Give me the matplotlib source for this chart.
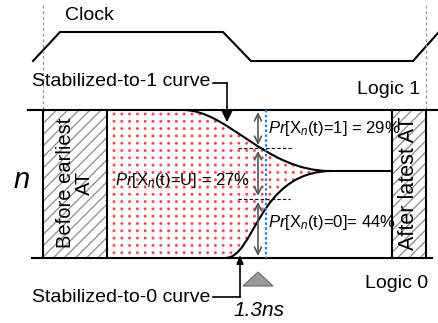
import numpy as np
import matplotlib

matplotlib.use("Agg")
import matplotlib.pyplot as plt
from matplotlib.patches import Rectangle, PathPatch, Polygon
from matplotlib.path import Path

plt.rcParams["font.family"] = ["Liberation Sans", "DejaVu Sans"]
plt.rcParams["mathtext.fontset"] = "custom"
plt.rcParams["mathtext.rm"] = "Liberation Sans"
plt.rcParams["mathtext.it"] = "Liberation Sans:italic"
plt.rcParams["hatch.linewidth"] = 0.9

# --- diagram data (pixel space of the 438x323 canvas, y grows downward) ---
CLOCK_X = [33, 60, 223, 251, 413, 438]
CLOCK_Y = [61, 32, 32, 61, 61, 33]
LOGIC1_Y = 110
LOGIC0_Y = 258
EARLIEST_AT = [43, 107]        # hatched "before earliest AT" span
LATEST_AT = [392, 426]         # hatched "after latest AT" span
# Bezier control points of the two stabilization curves
CURVE1 = [(183, 110), (228, 110), (265, 171), (330, 171)]
CURVE0 = [(225, 258), (255, 258), (257, 173), (330, 171)]
MERGE_END_X = 392
T_SAMPLE = 266                 # blue dotted sample time
PROB_LABELS = ["1", "U", "0"]
PROB_VALUES = [29, 27, 44]
SPLIT_Y = [148, 199]           # dashed levels where the curves cross T_SAMPLE
TIME_LABEL = "1.3ns"

INK = "#000000"
GREY = "#555555"
BLUE = "#1a80e0"
RED = "#ff1a1a"

fig = plt.figure(figsize=(4.38, 3.23), dpi=100)
ax = fig.add_axes([0, 0, 1, 1])
ax.set_xlim(0, 438)
ax.set_ylim(323, 0)
ax.axis("off")

# clock waveform and dashed AT markers
ax.plot(CLOCK_X, CLOCK_Y, color=INK, lw=1.5, solid_joinstyle="miter")
for xv in (EARLIEST_AT[0], LATEST_AT[1]):
    ax.plot([xv, xv], [5, LOGIC1_Y], color="#999999", lw=0.9, ls=(0, (2.5, 2)))
ax.text(65, 15, "Clock", fontsize=14, va="center", ha="left")

# hatched regions
for x0, x1 in (EARLIEST_AT, LATEST_AT):
    ax.add_patch(Rectangle((x0, LOGIC1_Y), x1 - x0, LOGIC0_Y - LOGIC1_Y,
                           facecolor="white", edgecolor="#8c8c8c", hatch="///", lw=0))
    for xv in (x0, x1):
        ax.plot([xv, xv], [LOGIC1_Y, LOGIC0_Y], color=INK, lw=1.5)

# uncertain region filled with red dots, clipped by the two curves
c1, c0 = CURVE1, CURVE0
verts = [(EARLIEST_AT[1], LOGIC1_Y), c1[0], c1[1], c1[2], c1[3],
         c0[2], c0[1], c0[0], (EARLIEST_AT[1], LOGIC0_Y), (0, 0)]
codes = [Path.MOVETO, Path.LINETO, Path.CURVE4, Path.CURVE4, Path.CURVE4,
         Path.CURVE4, Path.CURVE4, Path.CURVE4, Path.LINETO, Path.CLOSEPOLY]
region = PathPatch(Path(verts, codes), facecolor="none", edgecolor="none")
ax.add_patch(region)
gx, gy = np.meshgrid(np.arange(EARLIEST_AT[1] + 7, 335, 7.8),
                     np.arange(LOGIC1_Y + 4, LOGIC0_Y, 7.3))
dots = ax.scatter(gx.ravel(), gy.ravel(), s=4.5, color=RED, edgecolors="none", alpha=0.8)
dots.set_clip_path(region)

# curves
for cv in (CURVE1, CURVE0):
    ax.add_patch(PathPatch(Path(cv, [Path.MOVETO, Path.CURVE4, Path.CURVE4, Path.CURVE4]),
                           facecolor="none", edgecolor=INK, lw=1.5))
ax.plot([CURVE1[3][0], MERGE_END_X], [CURVE1[3][1], CURVE1[3][1]], color=INK, lw=1.5)

# logic rails
ax.plot([28, 438], [LOGIC1_Y, LOGIC1_Y], color=INK, lw=1.5)
ax.plot([32, 432], [LOGIC0_Y, LOGIC0_Y], color=INK, lw=1.5)
ax.text(420, 90, "Logic 1", fontsize=14, va="center", ha="right")
ax.text(365, 283, "Logic 0", fontsize=14, va="center", ha="left")
ax.text(22, 180, "n", fontsize=21, style="italic", va="center", ha="center")

# sample time, split levels and probability arrows
ax.plot([T_SAMPLE, T_SAMPLE], [LOGIC1_Y, LOGIC0_Y], color=BLUE, lw=1.6, ls=(0, (1.1, 1.1)))
ax.plot([238, 293], [SPLIT_Y[0]] * 2, color=INK, lw=0.8, ls=(0, (3, 2)))
ax.plot([238, 290], [SPLIT_Y[1]] * 2, color=INK, lw=0.8, ls=(0, (3, 2)))
for y0, y1 in ((LOGIC1_Y + 2, SPLIT_Y[0] - 3), (SPLIT_Y[0] + 3, SPLIT_Y[1] - 3),
               (SPLIT_Y[1] + 3, LOGIC0_Y - 2)):
    ax.annotate("", xy=(258, y0), xytext=(258, y1),
                arrowprops=dict(arrowstyle="<->,head_length=0.5,head_width=0.25",
                                color=GREY, lw=1.2, shrinkA=0, shrinkB=0))

fmt = r"$\mathit{{Pr}}$[$\mathrm{{X}}_{{\mathit{{n}}}}$(t)={}]{}= {}%"
ax.text(268, 128, fmt.format(PROB_LABELS[0], " ", PROB_VALUES[0]), fontsize=12, va="center")
ax.text(115, 180, fmt.format(PROB_LABELS[1], " ", PROB_VALUES[1]), fontsize=12, va="center")
ax.text(268, 222, fmt.format(PROB_LABELS[2], "", PROB_VALUES[2]), fontsize=12, va="center")

# region labels
ax.text(75, 183, "Before earliest\nAT", fontsize=14.5, rotation=90,
        ha="center", va="center", multialignment="center", linespacing=1.0)
ax.text(409, 183, "After latest AT", fontsize=15.5, rotation=90, ha="center", va="center")

# stabilized-curve callouts
ax.text(32, 82, "Stabilized-to-1 curve", fontsize=14, va="center", ha="left")
ax.plot([213, 227], [83, 83], color=INK, lw=1.2)
ax.annotate("", xy=(227, 122), xytext=(227, 83),
            arrowprops=dict(arrowstyle="-|>,head_length=0.7,head_width=0.35",
                            color=INK, lw=1.2, shrinkA=0, shrinkB=0))
ax.text(32, 297, "Stabilized-to-0 curve", fontsize=14, va="center", ha="left")
ax.plot([213, 240], [297, 297], color=INK, lw=1.2)
ax.annotate("", xy=(240, 255), xytext=(240, 297),
            arrowprops=dict(arrowstyle="-|>,head_length=0.5,head_width=0.2",
                            color=INK, lw=1.2, shrinkA=0, shrinkB=0))

# time marker
ax.add_patch(Polygon([(243, 286), (273, 286), (258, 272)], closed=True,
                     facecolor="#9a9a9a", edgecolor="#6a6a6a", lw=0.8))
ax.text(259, 310, TIME_LABEL, fontsize=15, style="italic", va="center", ha="center")

fig.savefig("out.png", dpi=100)
